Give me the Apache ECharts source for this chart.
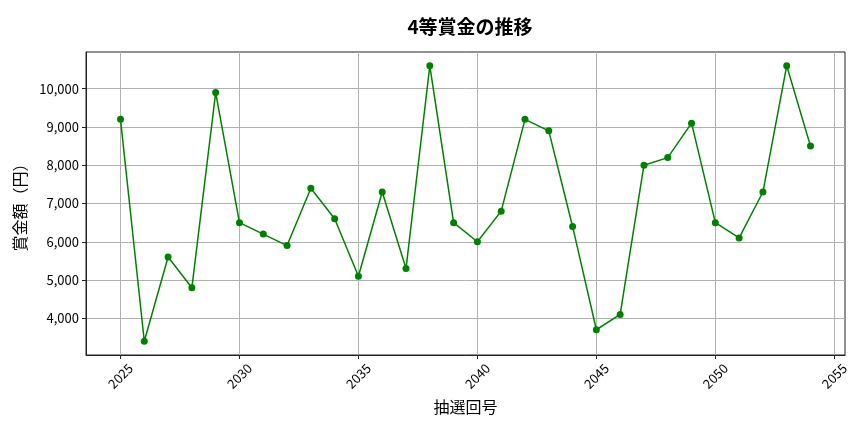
<!DOCTYPE html>
<html>
<head>
<meta charset="utf-8">
<script src="https://cdn.jsdelivr.net/npm/echarts@6/dist/echarts.min.js"></script>
<style>
html,body{margin:0;padding:0;background:#fff;}
#chart{width:864px;height:432px;}
</style>
</head>
<body>
<div id="chart"></div>
<script>
const titleText = '4等賞金の推移';
const xAxisName = '抽選回号';
const yAxisName = '賞金額（円）';
const drawNumbers = [2025,2026,2027,2028,2029,2030,2031,2032,2033,2034,2035,2036,2037,2038,2039,2040,2041,2042,2043,2044,2045,2046,2047,2048,2049,2050,2051,2052,2053,2054];
const prizeValues = [9200,3400,5600,4800,9900,6500,6200,5900,7400,6600,5100,7300,5300,10600,6500,6000,6800,9200,8900,6400,3700,4100,8000,8200,9100,6500,6100,7300,10600,8500];
const xTicks = [2025,2030,2035,2040,2045,2050,2055];
const yTicks = [4000,5000,6000,7000,8000,9000,10000];

const font = '"Noto Sans CJK JP", "Noto Sans", sans-serif';
const chart = echarts.init(document.getElementById('chart'), null, {renderer:'canvas'});
chart.setOption({
  animation: false,
  backgroundColor: '#ffffff',
  title: {
    text: titleText,
    left: 465, top: 12, textAlign: 'center',
    textStyle: {fontFamily: font, fontSize: 19, fontWeight: 'bold', color: '#000'}
  },
  grid: {
    left: 86, right: 19, top: 52, bottom: 77,
    show: true, borderColor: '#222', borderWidth: 1, backgroundColor: 'transparent'
  },
  xAxis: {
    type: 'value',
    min: 2023.55, max: 2055.45,
    name: xAxisName, nameLocation: 'middle', nameGap: 44,
    nameTextStyle: {fontFamily: font, fontSize: 16, color: '#000'},
    axisLine: {show: true, lineStyle: {color: '#222', width: 1}},
    axisTick: {show: true, inside: false, length: 4, lineStyle: {color: '#222'}, customValues: xTicks},
    axisLabel: {
      customValues: xTicks,
      rotate: 45, align: 'center', verticalAlign: 'middle', margin: 21,
      fontFamily: font, fontSize: 13, color: '#000',
      formatter: v => String(v)
    },
    splitLine: {show: true, lineStyle: {color: '#b0b0b0', width: 1}}
  },
  yAxis: {
    type: 'value',
    min: 3040, max: 10960,
    name: yAxisName, nameLocation: 'middle', nameGap: 57, nameRotate: 90,
    nameTextStyle: {fontFamily: font, fontSize: 16, color: '#000'},
    axisLine: {show: true, lineStyle: {color: '#222', width: 1}},
    axisTick: {show: true, inside: false, length: 4, lineStyle: {color: '#222'}, customValues: yTicks},
    axisLabel: {
      customValues: yTicks,
      margin: 7, fontFamily: font, fontSize: 13, color: '#000',
      formatter: v => Number(v).toLocaleString('en-US')
    },
    splitLine: {show: true, lineStyle: {color: '#b0b0b0', width: 1}}
  },
  series: [{
    type: 'line',
    data: drawNumbers.map((d, i) => [d, prizeValues[i]]),
    symbol: 'circle', symbolSize: 7,
    lineStyle: {color: '#008000', width: 1.5},
    itemStyle: {color: '#008000'},
    emphasis: {disabled: true}
  }]
});
</script>
</body>
</html>
